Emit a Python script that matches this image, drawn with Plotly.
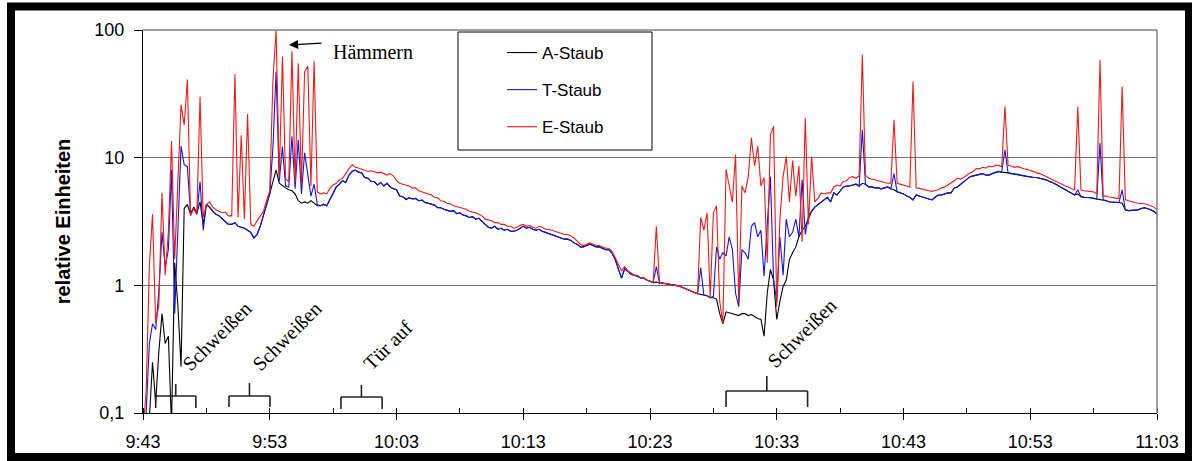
import plotly.graph_objects as go
import pandas as pd

# ---------------- data (15 s sampling, start 9:43) ----------------
START = "2000-01-01 09:43:00"
STEP = "15s"

A_STAUB = [
    0.05, 0.06, 0.09, 0.25, 0.12, 0.3, 0.6, 0.35, 0.4, 0.08, 1.5, 0.7, 0.23, 4.0, 4.3, 3.6, 4.1, 3.7, 4.5, 3.0,
    4.3, 4.1, 3.8, 3.6, 3.5, 3.3, 3.15, 3.0, 3.0, 3.1, 2.9, 2.85, 2.8, 2.7, 2.6, 2.35, 2.5, 2.9, 3.5, 4.4,
    5.2, 6.5, 8.0, 6.3, 6.0, 5.8, 5.6, 5.5, 5.2, 4.6, 4.4, 4.5, 4.4, 4.6, 4.4, 4.2, 4.2, 4.3, 4.2, 4.7,
    5.4, 5.9, 6.2, 6.6, 6.4, 7.3, 7.8, 8.0, 7.7, 7.6, 7.0, 6.9, 6.5, 6.5, 6.1, 6.4, 6.0, 6.3, 5.9, 5.7,
    5.6, 5.0, 4.95, 4.7, 4.85, 4.75, 4.8, 4.6, 4.65, 4.45, 4.4, 4.3, 4.25, 4.05, 4.05, 3.95, 3.9, 3.8, 3.85, 3.65,
    3.7, 3.55, 3.5, 3.4, 3.45, 3.3, 3.35, 3.15, 3.0, 2.85, 2.8, 2.9, 2.75, 2.8, 2.7, 2.75, 2.65, 2.65, 2.7, 2.8,
    2.9, 2.8, 2.85, 2.75, 2.7, 2.75, 2.65, 2.6, 2.55, 2.5, 2.45, 2.4, 2.35, 2.3, 2.3, 2.25, 2.15, 2.1, 2.0, 2.0,
    2.05, 2.1, 2.05, 2.0, 2.0, 1.95, 1.9, 1.9, 1.8, 1.6, 1.35, 1.14, 1.35, 1.28, 1.22, 1.2, 1.18, 1.14, 1.14, 1.1,
    1.07, 1.05, 1.06, 1.04, 1.04, 1.03, 1.02, 1.02, 1.0, 0.99, 0.97, 0.95, 0.93, 0.9, 0.88, 0.86, 0.85, 0.84, 0.83, 0.8,
    0.8, 0.78, 0.6, 0.5, 0.62, 0.61, 0.6, 0.59, 0.58, 0.6, 0.6, 0.58, 0.59, 0.57, 0.55, 0.54, 0.4, 0.87, 1.33, 1.1,
    0.54, 0.75, 0.98, 1.1, 1.59, 1.8, 2.0, 2.4, 2.7, 2.9, 3.27, 3.8, 4.1, 4.3, 4.5, 4.7, 4.9, 4.5, 5.3, 5.1,
    5.5, 5.9, 6.0, 6.0, 6.1, 6.2, 6.0, 6.3, 6.2, 5.9, 5.9, 5.8, 5.8, 5.7, 5.8, 5.9, 5.7, 5.6, 5.4, 5.3,
    5.2, 5.0, 4.9, 4.66, 5.1, 5.0, 4.9, 4.8, 4.7, 4.66, 4.9, 5.1, 5.1, 5.2, 5.3, 5.3, 5.8, 5.9, 6.2, 6.5,
    6.8, 7.1, 7.2, 7.3, 7.4, 7.5, 7.3, 7.3, 7.5, 7.7, 7.8, 7.7, 7.7, 7.6, 7.5, 7.5, 7.4, 7.3, 7.2, 7.1,
    7.1, 7.0, 7.0, 6.9, 6.8, 6.7, 6.5, 6.4, 6.2, 6.0, 5.8, 5.6, 5.5, 5.3, 5.1, 5.2, 4.95, 4.9, 4.9, 4.85,
    4.8, 4.75, 4.7, 4.7, 4.6, 4.5, 4.5, 4.5, 4.45, 4.4, 3.9, 3.85, 3.85, 3.9, 3.9, 4.0, 4.05, 4.0, 3.9, 3.8,
    3.6,
]

T_STAUB = [
    0.06, 0.1, 0.35, 0.5, 0.45, 0.9, 2.6, 1.4, 1.9, 8.0, 0.6, 3.0, 12.3, 8.8, 8.5, 3.7, 4.0, 3.6, 6.5, 2.7,
    4.3, 4.1, 3.8, 3.6, 3.5, 3.3, 3.15, 3.0, 3.0, 3.1, 2.9, 2.85, 2.8, 2.7, 2.6, 2.35, 2.5, 2.9, 3.5, 4.4,
    5.2, 12, 47, 6.5, 12.2, 6.0, 5.9, 14.7, 5.7, 13.8, 5.2, 10.9, 7.5, 5.0, 6.2, 4.3, 4.2, 4.3, 4.2, 4.7,
    5.4, 5.9, 6.2, 6.6, 6.4, 7.3, 7.8, 8.0, 7.7, 7.6, 7.0, 6.9, 6.5, 6.5, 6.1, 6.4, 6.0, 6.3, 5.9, 5.7,
    5.6, 5.0, 4.95, 4.7, 4.85, 4.75, 4.8, 4.6, 4.65, 4.45, 4.4, 4.3, 4.25, 4.05, 4.05, 3.95, 3.9, 3.8, 3.85, 3.65,
    3.7, 3.55, 3.5, 3.4, 3.45, 3.3, 3.35, 3.15, 3.0, 2.85, 2.8, 2.9, 2.75, 2.8, 2.7, 2.75, 2.65, 2.65, 2.7, 2.8,
    2.9, 2.8, 2.85, 2.75, 2.7, 2.75, 2.65, 2.6, 2.55, 2.5, 2.45, 2.4, 2.35, 2.3, 2.3, 2.25, 2.15, 2.1, 2.0, 2.0,
    2.05, 2.1, 2.05, 2.0, 2.0, 1.95, 1.9, 1.9, 1.8, 1.6, 1.35, 1.14, 1.35, 1.28, 1.22, 1.2, 1.18, 1.14, 1.14, 1.1,
    1.07, 1.05, 1.4, 1.04, 1.04, 1.03, 1.02, 1.02, 1.0, 0.99, 0.97, 0.95, 0.93, 0.9, 0.88, 0.86, 1.37, 0.84, 0.83, 0.8,
    0.82, 2.0, 1.6, 1.8, 1.7, 2.4, 1.9, 0.87, 0.68, 1.9, 1.8, 1.6, 2.9, 3.1, 2.4, 2.7, 1.18, 3.0, 7.1, 1.1,
    0.75, 2.4, 1.2, 3.3, 2.4, 2.6, 3.3, 2.4, 6.7, 2.5, 3.5, 3.8, 4.1, 4.3, 4.5, 4.7, 4.9, 4.5, 5.3, 5.1,
    5.5, 5.9, 6.0, 6.0, 6.1, 6.2, 6.0, 16.5, 6.2, 5.9, 5.9, 5.8, 5.8, 5.7, 5.8, 5.9, 5.7, 7.5, 5.4, 5.3,
    5.2, 5.0, 4.9, 4.66, 5.1, 5.0, 4.9, 4.8, 4.7, 4.66, 4.9, 5.1, 5.1, 5.2, 5.3, 5.3, 5.8, 5.9, 6.2, 6.5,
    6.8, 7.1, 7.2, 7.3, 7.4, 7.5, 7.3, 7.3, 7.5, 7.7, 7.8, 7.7, 11.5, 7.6, 7.5, 7.5, 7.4, 7.3, 7.2, 7.1,
    7.1, 7.0, 7.0, 6.9, 6.8, 6.7, 6.5, 6.4, 6.2, 6.0, 5.8, 5.6, 5.5, 5.3, 5.1, 5.6, 4.95, 4.9, 4.9, 4.85,
    4.8, 4.75, 13.0, 4.7, 4.6, 4.5, 4.5, 4.5, 4.45, 5.6, 3.9, 3.85, 3.85, 3.9, 3.9, 4.0, 4.05, 4.0, 3.9, 3.8,
    3.6,
]

E_STAUB = [
    0.07, 0.15, 1.4, 3.6, 0.5, 0.7, 5.3, 1.2, 2.6, 13.5, 1.6, 7.5, 26, 18, 41, 3.5, 4.0, 3.6, 30, 3.4,
    4.3, 4.5, 4.1, 3.9, 3.8, 3.7, 3.75, 3.5, 3.5, 45, 3.4, 15, 3.3, 22, 3.0, 2.9, 3.2, 3.5, 3.8, 4.6,
    5.5, 40, 100, 7.0, 62, 6.8, 6.5, 68, 6.4, 55, 6.2, 47, 52, 6.0, 57, 5.4, 5.2, 5.3, 5.2, 5.8,
    6.1, 6.3, 6.7, 6.9, 7.6, 8.2, 8.8, 8.4, 8.3, 8.1, 8.0, 7.8, 7.9, 7.7, 7.6, 7.7, 7.5, 7.3, 7.5, 7.2,
    6.6, 6.3, 6.2, 6.1, 6.0, 5.8, 5.8, 5.5, 5.4, 5.35, 5.2, 5.1, 4.9, 4.85, 4.6, 4.55, 4.4, 4.35, 4.2, 4.15,
    4.1, 4.0, 3.95, 3.8, 3.75, 3.7, 3.6, 3.5, 3.3, 3.25, 3.2, 3.1, 3.1, 3.0, 3.0, 2.9, 2.9, 2.8, 2.85, 2.95,
    3.0, 2.9, 2.95, 2.85, 2.8, 2.9, 2.85, 2.75, 2.75, 2.7, 2.65, 2.6, 2.55, 2.5, 2.5, 2.45, 2.35, 2.2, 2.1, 2.05,
    2.1, 2.15, 2.1, 2.05, 2.05, 2.0, 1.95, 1.95, 1.85, 1.65, 1.45, 1.3, 1.4, 1.3, 1.25, 1.2, 1.2, 1.15, 1.15, 1.1,
    1.08, 1.05, 2.9, 1.04, 1.04, 1.03, 1.02, 1.02, 1.0, 0.99, 0.97, 0.95, 0.93, 0.9, 0.88, 0.86, 3.4, 2.7, 3.7, 0.8,
    3.7, 4.2, 0.75, 0.5, 8.1, 6.0, 4.5, 10.6, 0.73, 6.0, 5.3, 7.1, 14.3, 8.6, 12.3, 6.0, 7.0, 1.5, 15, 17.6,
    0.68, 3.3, 7.1, 10.2, 4.5, 9.5, 5.0, 8.6, 2.2, 20.4, 3.0, 10.2, 4.5, 4.8, 5.3, 5.2, 5.3, 5.3, 5.9, 6.1,
    6.0, 6.5, 6.6, 7.0, 7.1, 6.9, 7.2, 64, 7.3, 6.9, 6.8, 6.7, 6.6, 6.5, 6.4, 6.3, 6.3, 19.8, 6.3, 6.2,
    6.1, 6.0, 5.9, 39.5, 5.8, 5.75, 5.65, 5.6, 5.5, 5.45, 5.5, 5.6, 5.8, 5.9, 6.1, 6.3, 6.6, 6.9, 6.8, 7.0,
    7.3, 7.6, 7.8, 8.2, 8.2, 8.4, 8.3, 8.6, 8.5, 8.7, 8.7, 8.5, 25.1, 8.7, 8.6, 8.4, 8.5, 8.3, 8.2, 8.1,
    7.9, 7.8, 7.6, 7.5, 7.3, 7.1, 7.0, 6.8, 6.6, 6.4, 6.2, 6.0, 5.9, 5.7, 5.6, 25.0, 5.6, 5.5, 5.45, 5.4,
    5.4, 5.2, 58.5, 5.0, 5.0, 4.9, 4.9, 4.8, 4.8, 36.1, 4.7, 4.6, 4.5, 4.45, 4.4, 4.4, 4.35, 4.3, 4.2, 4.1,
    3.9,
]

SERIES_NAMES = ["A-Staub", "T-Staub", "E-Staub"]
X_TICK_LABELS = ["9:43", "9:53", "10:03", "10:13", "10:23", "10:33", "10:43", "10:53", "11:03"]
Y_TICK_VALUES = [0.1, 1, 10, 100]
Y_TICK_LABELS = ["0,1", "1", "10", "100"]

# event brackets (start, end) and their labels
EVENTS = [
    ("09:44:00", "09:47:10", "Schweißen"),
    ("09:49:47", "09:53:01", "Schweißen"),
    ("09:58:37", "10:01:52", "Tür auf"),
    ("10:29:00", "10:35:26", "Schweißen"),
]

# ---------------- figure ----------------
W, H = 1192, 461
ML, MR, MT, MB = 143, 35, 30, 48
PW, PH = W - ML - MR, H - MT - MB


def px(x):
    return (x - ML) / PW


def py(y):
    return (H - MB - y) / PH


times = pd.date_range(START, periods=len(E_STAUB), freq=STEP)
day = START.split(" ")[0]

COLORS = ["#000000", "#1414e0", "#ee1a16"]
fig = go.Figure()
for name, vals, col in zip(SERIES_NAMES, [A_STAUB, T_STAUB, E_STAUB], COLORS):
    fig.add_trace(go.Scatter(
        x=times, y=vals, mode="lines", name=name, legendgroup=name,
        line=dict(color=col, width=1.1),
    ))

tickvals = [pd.Timestamp(f"{day} {t}") for t in X_TICK_LABELS]

SANS = "Arial, Liberation Sans, sans-serif"
SERIF = "Times New Roman, Liberation Serif, serif"

fig.update_layout(
    width=W, height=H,
    margin=dict(l=ML, r=MR, t=MT, b=MB, autoexpand=False),
    paper_bgcolor="white", plot_bgcolor="white",
    showlegend=True,
    legend=dict(
        x=px(502), y=py(35), xanchor="left", yanchor="top",
        bgcolor="rgba(0,0,0,0)", borderwidth=0,
        font=dict(family=SANS, size=17, color="black"),
        traceorder="grouped", tracegroupgap=12,
    ),
    xaxis=dict(
        type="date",
        range=[tickvals[0], tickvals[-1]],
        tickmode="array", tickvals=tickvals, ticktext=X_TICK_LABELS,
        ticks="outside", ticklen=6, tickcolor="black", tickwidth=1,
        ticklabelstandoff=6,
        minor=dict(dtick=300000, tick0=tickvals[0], ticks="inside", ticklen=5,
                   tickcolor="black", showgrid=False),
        showline=True, linecolor="black", linewidth=1.2,
        showgrid=False, zeroline=False,
        tickfont=dict(family=SANS, size=18, color="black"),
    ),
    yaxis=dict(
        type="log", range=[-1, 2],
        tickmode="array", tickvals=Y_TICK_VALUES, ticktext=Y_TICK_LABELS,
        ticks="outside", ticklen=8, tickcolor="black", tickwidth=1,
        ticklabelstandoff=6,
        showline=True, linecolor="black", linewidth=1.2,
        showgrid=True, gridcolor="#707070", gridwidth=1.3,
        zeroline=False,
        tickfont=dict(family=SANS, size=18, color="black"),
        title=dict(text="<b>relative Einheiten</b>", standoff=18,
                   font=dict(family=SANS, size=20, color="black")),
    ),
)

shapes = []
# plot frame (top and right) in gray
shapes.append(dict(type="line", xref="paper", yref="paper", x0=0, x1=1, y0=1, y1=1,
                   line=dict(color="#808080", width=1.5)))
shapes.append(dict(type="line", xref="paper", yref="paper", x0=1, x1=1, y0=0, y1=1,
                   line=dict(color="#808080", width=1.5)))
# legend box
shapes.append(dict(type="rect", xref="paper", yref="paper",
                   x0=px(458), x1=px(652), y0=py(150), y1=py(32),
                   line=dict(color="black", width=1), fillcolor="rgba(0,0,0,0)"))
# outer thick black frame
shapes.append(dict(type="rect", xref="paper", yref="paper",
                   x0=px(11), x1=px(1189), y0=py(457), y1=py(6.5),
                   line=dict(color="black", width=8), fillcolor="rgba(0,0,0,0)"))

# event brackets
BRACKET_GEOM = [  # (bar y, leg bottom y, stem top y) in pixels
    (396, 408, 384), (396, 407, 383), (397, 409, 385), (391, 407, 376),
]
LABEL_POS = [(217, 336), (287, 336), (388, 345), (802, 333)]
annotations = []
for (t0, t1, label), (yb, yl, ys), (lx, ly) in zip(EVENTS, BRACKET_GEOM, LABEL_POS):
    a = pd.Timestamp(f"{day} {t0}")
    b = pd.Timestamp(f"{day} {t1}")
    mid = a + (b - a) / 2
    ln = dict(color="#222222", width=1.6)
    shapes.append(dict(type="line", xref="x", yref="paper", x0=a, x1=b, y0=py(yb), y1=py(yb), line=ln))
    shapes.append(dict(type="line", xref="x", yref="paper", x0=a, x1=a, y0=py(yb), y1=py(yl), line=ln))
    shapes.append(dict(type="line", xref="x", yref="paper", x0=b, x1=b, y0=py(yb), y1=py(yl), line=ln))
    shapes.append(dict(type="line", xref="x", yref="paper", x0=mid, x1=mid, y0=py(yb), y1=py(ys), line=ln))
    annotations.append(dict(
        text=label, xref="paper", yref="paper", x=px(lx), y=py(ly),
        xanchor="center", yanchor="middle", textangle=-45, showarrow=False,
        font=dict(family=SERIF, size=20, color="black"),
    ))

# Hämmern label and arrow
annotations.append(dict(
    text="Hämmern", xref="paper", yref="paper", x=px(331), y=py(52),
    xanchor="left", yanchor="middle", showarrow=False,
    font=dict(family=SERIF, size=20, color="black"),
))
annotations.append(dict(
    text="", xref="paper", yref="paper", x=px(289), y=py(45),
    showarrow=True, ax=34, ay=-2, arrowhead=2, arrowsize=1.3, arrowwidth=1.4,
    arrowcolor="black", standoff=0, startstandoff=0,
))

fig.update_layout(shapes=shapes, annotations=annotations)

fig.write_html("out.html")
